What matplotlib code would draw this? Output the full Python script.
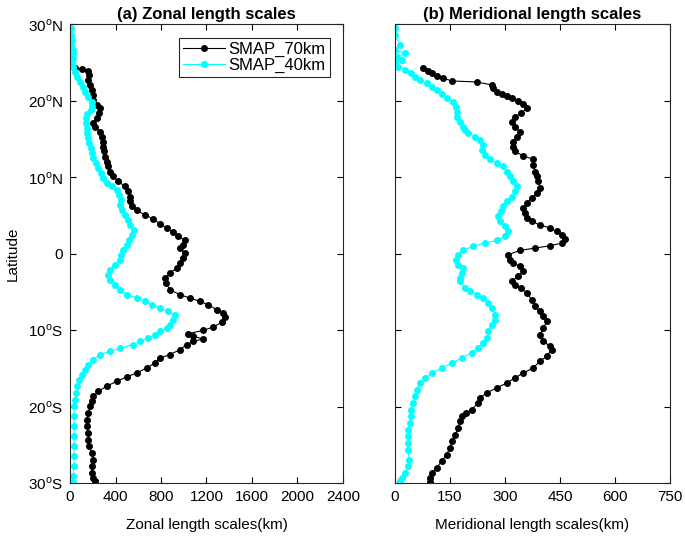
import matplotlib.pyplot as plt

plt.rcParams['font.family'] = ['Liberation Sans', 'DejaVu Sans']
plt.rcParams['mathtext.fontset'] = 'custom'
plt.rcParams['mathtext.rm'] = 'Liberation Sans'

# ---- zonal length scales (km) vs latitude ----
zon_lat_40 = [29.50, 28.63, 27.97, 27.32, 26.67, 26.23, 25.58, 24.92, 24.49, 23.83, 23.18, 22.53,
              21.87, 21.22, 20.57, 19.91, 19.35, 18.82, 18.30, 17.73, 17.08, 16.43, 15.77, 15.12,
              14.47, 13.81, 13.16, 12.51, 11.85, 11.20, 10.54, 9.89, 9.32, 8.80, 8.28, 7.71, 7.06,
              6.41, 5.75, 5.10, 4.44, 3.79, 3.14, 2.48, 1.83, 1.18, 0.52, -0.13,
              -0.78, -1.44, -2.09, -2.75, -3.40, -4.05, -4.71, -5.36, -5.80, -6.23, -6.67, -7.10,
              -7.54, -7.97, -8.63, -9.28, -9.72, -10.15, -10.59, -11.02, -11.46, -11.90, -12.33,
              -12.77, -13.20, -13.86, -14.51, -15.16, -15.82, -16.47, -17.34, -18.21, -19.08,
              -19.96, -21.26, -22.57, -23.88, -25.19, -26.49, -27.80, -29.11, -29.89]
zon_40 = [9, 9, 15, 9, 23, 29, 23, 15, 29, 44, 64, 88,
          111, 132, 161, 190, 196, 185, 152, 141, 141, 147, 152, 161,
          170, 182, 190, 205, 229, 249, 270, 293, 322, 366, 410, 434, 445,
          440, 454, 483, 513, 527, 563, 542, 522, 498, 469, 445,
          440, 396, 352, 337, 352, 396, 440, 498, 586, 659, 718, 791,
          864, 923, 908, 879, 850, 791, 747, 689, 615, 557, 440,
          352, 264, 205, 161, 132, 103, 82, 64, 53, 44,
          38, 35, 35, 35, 35, 35, 35, 29, 23]

zon_lat_70 = [24.36, 24.18, 23.97, 23.40, 22.75, 22.09, 21.44, 20.78, 20.13, 19.48, 19.04, 18.39,
              17.73, 17.08, 16.64, 15.99, 15.34, 14.68, 14.03, 13.38, 12.72, 12.07, 11.42, 10.76,
              10.11, 9.46, 8.80, 8.15, 7.49, 6.84, 6.19, 5.66, 5.10, 4.53, 3.92, 3.36, 2.79, 2.27,
              1.74, 1.18, 0.74, 0.09,
              -0.57, -1.22, -1.87, -2.53, -3.18, -3.83, -4.71, -5.36, -5.80, -6.23, -6.67, -7.32,
              -7.76, -8.28, -8.98, -9.59, -10.02, -10.46, -10.81, -11.15, -11.46, -11.90, -12.55,
              -13.20, -13.64, -14.29, -14.95, -15.60, -16.12, -16.69, -17.34, -18.00, -18.65,
              -19.30, -19.96, -20.83, -21.70, -22.57, -23.44, -24.31, -25.19, -26.06, -26.93,
              -27.80, -28.67, -29.32, -29.76]
zon_70 = [44, 103, 161, 170, 161, 176, 190, 199, 205, 234, 264, 258,
          234, 205, 220, 264, 278, 287, 293, 299, 308, 322, 337, 352,
          381, 425, 483, 513, 527, 527, 542, 586, 659, 733, 791, 850, 908, 952,
          1011, 996, 967, 1011,
          996, 967, 938, 879, 835, 844, 879, 967, 1055, 1143, 1216, 1289,
          1348, 1362, 1333, 1260, 1172, 1040, 1084, 1172, 1084, 1025, 967,
          879, 791, 747, 674, 586, 498, 410, 322, 249, 205,
          190, 176, 161, 147, 147, 161, 161, 170, 190, 205,
          190, 190, 205, 220]

# ---- meridional length scales (km) vs latitude ----
mer_lat_40 = [29.50, 28.63, 27.32, 26.67, 26.23, 25.80, 25.36, 24.92, 24.49, 24.05, 23.62, 23.18,
              22.75, 22.31, 21.87, 21.44, 20.92, 20.35, 19.91, 19.26, 18.61, 17.95, 17.30, 16.64,
              16.21, 15.77, 15.34, 14.90, 14.25, 13.59, 12.94, 12.37, 11.85, 11.42, 10.76, 10.11,
              9.46, 8.80, 8.15, 7.49, 6.84, 6.19, 5.53, 4.88, 4.23, 3.57, 2.92, 2.27, 1.74, 1.39,
              0.96, 0.52, -0.13,
              -0.78, -1.44, -1.87, -2.53, -3.18, -3.62, -4.49, -4.92, -5.36, -5.80, -6.45, -7.10,
              -7.97, -8.63, -9.28, -10.15, -11.02, -11.68, -12.33, -12.98, -13.64, -14.29, -14.95,
              -15.60, -16.25, -16.91, -17.78, -18.65, -19.52, -20.39, -21.26, -22.14, -23.01,
              -23.88, -24.75, -25.62, -26.93, -27.80, -28.67, -29.32, -29.76]
mer_40 = [0, 0, 14, 0, 27, 5, 18, 0, 9, 27, 45, 55,
          68, 86, 100, 114, 127, 141, 159, 166, 170, 168, 177, 186,
          191, 200, 218, 232, 241, 236, 245, 259, 277, 295, 305, 314,
          323, 332, 327, 318, 305, 295, 288, 282, 286, 300, 309, 300, 277, 245,
          214, 186, 173,
          166, 173, 186, 182, 177, 177, 191, 205, 223, 241, 255, 264,
          273, 273, 264, 255, 250, 241, 227, 209, 182, 155, 127,
          100, 82, 68, 59, 55, 50, 45, 43, 41, 36,
          36, 35, 36, 39, 36, 27, 18, 14]

mer_lat_70 = [24.27, 23.97, 23.70, 23.27, 22.96, 22.61, 22.48, 22.09, 21.66, 21.22, 20.92, 20.65,
              20.35, 20.00, 19.61, 19.04, 18.39, 17.95, 17.30, 16.64, 15.99, 15.34, 14.68, 14.03,
              13.38, 12.81, 12.37, 11.63, 10.76, 10.11, 9.46, 8.58, 7.93, 7.28, 6.62, 5.97, 5.32,
              4.66, 4.23, 3.79, 3.36, 2.92, 2.48, 1.92, 1.39, 1.05, 0.74, 0.44, -0.13,
              -0.78, -1.22, -1.66, -2.31, -2.96, -3.62, -4.05, -4.49, -5.14, -6.01, -6.88, -7.54,
              -8.19, -8.85, -9.72, -10.59, -11.46, -12.11, -12.55, -13.42, -14.07, -14.95, -15.60,
              -16.25, -16.91, -17.56, -18.21, -18.87, -19.52, -20.39, -20.83, -21.26, -21.92,
              -22.79, -23.66, -24.53, -25.40, -26.28, -27.15, -28.02, -28.67, -29.32, -29.89]
mer_70 = [77, 91, 100, 114, 132, 155, 223, 264, 268, 277, 291, 305,
          318, 336, 350, 359, 345, 327, 318, 327, 341, 332, 323, 321,
          327, 350, 377, 377, 382, 386, 391, 395, 386, 373, 359, 350, 355,
          359, 373, 395, 423, 441, 455, 464, 455, 423, 382, 341, 309,
          314, 323, 341, 350, 336, 318, 327, 345, 359, 373, 382, 395,
          405, 414, 405, 395, 405, 423, 427, 414, 395, 377, 350,
          327, 305, 277, 250, 232, 227, 209, 195, 182, 177,
          173, 164, 155, 150, 141, 127, 114, 100, 95, 95]

lat_ticks = [-30, -20, -10, 0, 10, 20, 30]
lat_labels = ['30$^{\\mathrm{o}}$S', '20$^{\\mathrm{o}}$S', '10$^{\\mathrm{o}}$S', '0',
              '10$^{\\mathrm{o}}$N', '20$^{\\mathrm{o}}$N', '30$^{\\mathrm{o}}$N']
zon_ticks = [0, 400, 800, 1200, 1600, 2000, 2400]
mer_ticks = [0, 150, 300, 450, 600, 750]

fig = plt.figure(figsize=(6.85, 5.36), dpi=100)
ax1 = fig.add_axes([0.1022, 0.0989, 0.3985, 0.8554])
ax2 = fig.add_axes([0.5766, 0.0989, 0.4015, 0.8554])

edge = '#262626'
for ax in (ax1, ax2):
    ax.set_ylim(-30, 30)
    ax.set_yticks(lat_ticks)
    ax.tick_params(direction='in', top=True, right=True, labelsize=11, colors='black',
                   length=4, width=0.8, pad=5)
    for s in ax.spines.values():
        s.set_color(edge)
        s.set_linewidth(0.8)

ax1.plot(zon_70, zon_lat_70, '-o', color='black', ms=4, lw=0.8, label='SMAP_70km')
ax1.plot(zon_40, zon_lat_40, '-o', color='cyan', ms=4, lw=0.8, label='SMAP_40km')
ax1.set_xlim(0, 2400)
ax1.set_xticks(zon_ticks)
ax1.set_yticklabels(lat_labels)
ax1.set_xlabel('Zonal length scales(km)', fontsize=11, labelpad=10)
ax1.set_ylabel('Latitude', fontsize=11, labelpad=6)
ax1.set_title('(a) Zonal length scales', fontsize=12, fontweight='bold', pad=4)
leg = ax1.legend(loc='upper right', fontsize=12, fancybox=False, framealpha=1,
                 edgecolor=edge, borderpad=0.25, handlelength=2.5, labelspacing=0.05,
                 borderaxespad=0.8, handletextpad=0.2)
leg.get_frame().set_linewidth(0.8)

ax2.plot(mer_70, mer_lat_70, '-o', color='black', ms=4, lw=0.8)
ax2.plot(mer_40, mer_lat_40, '-o', color='cyan', ms=4, lw=0.8)
ax2.set_xlim(0, 750)
ax2.set_xticks(mer_ticks)
ax2.set_yticklabels([])
ax2.set_xlabel('Meridional length scales(km)', fontsize=11, labelpad=10)
ax2.set_title('(b) Meridional length scales', fontsize=12, fontweight='bold', pad=4)

fig.savefig('out.png', dpi=100)
